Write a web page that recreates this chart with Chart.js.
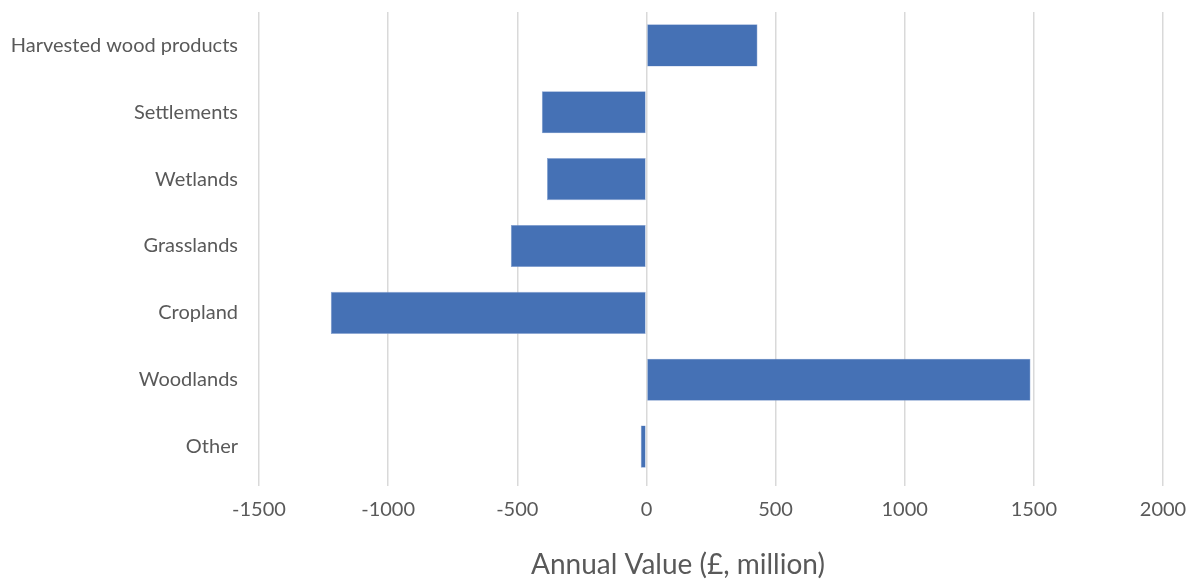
<!DOCTYPE html>
<html>
<head>
<meta charset="utf-8">
<script src="https://cdn.jsdelivr.net/npm/chart.js@4/dist/chart.umd.min.js"></script>
<style>
  html, body { margin: 0; padding: 0; background: #fff; }
  #wrap { width: 1194px; height: 581px; position: relative; }
</style>
</head>
<body>
<div id="wrap"><canvas id="land-chart"></canvas></div>
<script>
    // Land use categories and their annual value (£ million)
    const categories = ['Harvested wood products', 'Settlements', 'Wetlands', 'Grasslands', 'Cropland', 'Woodlands', 'Other'];
    const annualValues = [430, -405, -385, -525, -1222, 1487, -22];
    const xTicks = [-1500, -1000, -500, 0, 500, 1000, 1500, 2000];
    const axisTitle = 'Annual Value (£, million)';

    const labelFont = { family: 'Lato', size: 20 };

    // Axis title sits a little left of the plot centre, under the tick row
    const axisTitlePlugin = {
        id: 'axisTitle',
        afterDraw(chart) {
            const ctx = chart.ctx;
            const area = chart.chartArea;
            ctx.save();
            ctx.font = '28px Lato';
            ctx.fillStyle = '#595959';
            ctx.textAlign = 'center';
            ctx.textBaseline = 'middle';
            ctx.fillText(axisTitle, (area.left + area.right) / 2 - 33, chart.height - 16);
            ctx.restore();
        }
    };

    new Chart(document.getElementById('land-chart'), {
        type: 'bar',
        data: {
            labels: categories,
            datasets: [{
                data: annualValues,
                backgroundColor: '#4571b5',
                borderColor: '#8aa5d3',
                borderWidth: 0.6,
                borderSkipped: false,
                barPercentage: 0.63,
                categoryPercentage: 1
            }]
        },
        options: {
            indexAxis: 'y',
            responsive: true,
            maintainAspectRatio: false,
            animation: false,
            layout: { padding: { top: 12, right: 31, left: 0, bottom: 0 } },
            plugins: {
                legend: { display: false },
                tooltip: { enabled: false }
            },
            scales: {
                x: {
                    min: -1500,
                    max: 2000,
                    afterBuildTicks: function(scale) {
                        scale.ticks = xTicks.map(v => ({ value: v }));
                    },
                    afterFit: function(scale) {
                        scale.height = 101;
                        scale.paddingLeft = 0;
                        scale.paddingRight = 0;
                    },
                    border: { display: false },
                    grid: { color: '#d9d9d9', lineWidth: 1.5, tickLength: 6 },
                    ticks: {
                        color: '#595959',
                        font: labelFont,
                        padding: 12,
                        callback: value => String(value)
                    }
                },
                y: {
                    afterFit: function(scale) {
                        scale.width = 259;
                        scale.paddingTop = 0;
                        scale.paddingBottom = 0;
                    },
                    border: { display: false },
                    grid: { display: false, drawTicks: false },
                    ticks: { color: '#595959', font: labelFont, padding: 21 }
                }
            }
        },
        plugins: [axisTitlePlugin]
    });
</script>
</body>
</html>
